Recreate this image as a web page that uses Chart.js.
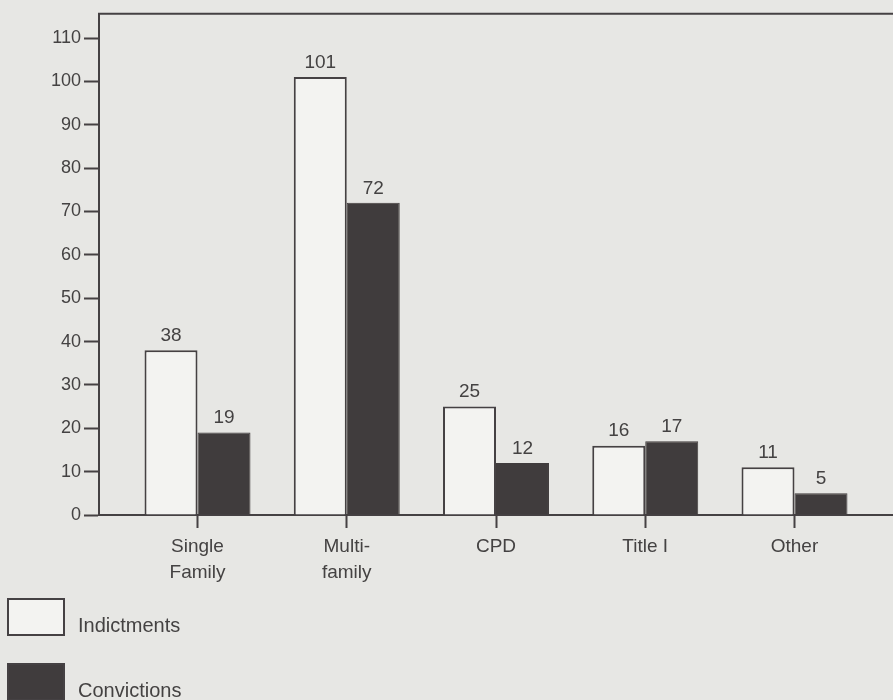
<!DOCTYPE html>
<html>
<head>
<meta charset="utf-8">
<script src="https://cdn.jsdelivr.net/npm/chart.js@4/dist/chart.umd.min.js"></script>
<style>
    html, body { margin: 0; padding: 0; background: #e7e7e4; }
    #wrap { width: 893px; height: 700px; position: relative; }
</style>
</head>
<body>
<div id="wrap"><canvas id="hudChart"></canvas></div>
<script>
Chart.defaults.font.family = "'Liberation Sans', Arial, sans-serif";
Chart.defaults.color = '#444242';

var categories  = [['Single', 'Family'], ['Multi-', 'family'], 'CPD', 'Title I', 'Other'];
var indictments = [38, 101, 25, 16, 11];
var convictions = [19, 72, 12, 17, 5];
var yTicks      = [0, 10, 20, 30, 40, 50, 60, 70, 80, 90, 100, 110];

var inkColor  = '#454143';
var darkFill  = '#403c3d';
var lightFill = '#f3f3f1';

function toPoints(values) {
    return values.map(function (v, i) { return { x: i, y: v }; });
}

// value labels above each bar
var valueLabels = {
    id: 'valueLabels',
    afterDatasetsDraw: function (chart) {
        var ctx = chart.ctx;
        ctx.save();
        ctx.font = '19px ' + Chart.defaults.font.family;
        ctx.fillStyle = '#444242';
        ctx.textAlign = 'center';
        ctx.textBaseline = 'bottom';
        chart.data.datasets.forEach(function (ds, di) {
            chart.getDatasetMeta(di).data.forEach(function (bar, i) {
                ctx.fillText(ds.data[i].y, bar.x, bar.y - 5);
            });
        });
        ctx.restore();
    }
};

// top frame line plus a stacked legend in the lower-left corner
var frameAndLegend = {
    id: 'frameAndLegend',
    afterDraw: function (chart) {
        var ctx = chart.ctx, area = chart.chartArea;
        ctx.save();
        ctx.strokeStyle = inkColor;
        ctx.lineWidth = 2;
        ctx.beginPath();
        ctx.moveTo(area.left - 1, area.top);
        ctx.lineTo(chart.width, area.top);
        ctx.stroke();

        ctx.font = '20px ' + Chart.defaults.font.family;
        ctx.textBaseline = 'middle';
        chart.data.datasets.forEach(function (ds, di) {
            var y = 599 + di * 65;
            ctx.fillStyle = ds.backgroundColor;
            ctx.fillRect(8, y, 56, 36);
            ctx.strokeStyle = inkColor;
            ctx.lineWidth = 2;
            ctx.strokeRect(8, y, 56, 36);
            ctx.fillStyle = '#444242';
            ctx.fillText(ds.label, 78, y + 27);
        });
        ctx.restore();
    }
};

new Chart(document.getElementById('hudChart'), {
    type: 'bar',
    data: {
        datasets: [
            {
                label:           'Indictments',
                data:            toPoints(indictments),
                backgroundColor: lightFill,
                borderColor:     inkColor,
                borderWidth:     2,
                borderSkipped:   'bottom'
            },
            {
                label:           'Convictions',
                data:            toPoints(convictions),
                backgroundColor: darkFill,
                borderColor:     darkFill,
                borderWidth:     1,
                borderSkipped:   'bottom'
            }
        ]
    },
    options: {
        responsive:          true,
        maintainAspectRatio: false,
        animation:           false,
        categoryPercentage:  0.71,
        barPercentage:       1.0,
        layout: { padding: { top: 11, left: 0, right: 0, bottom: 0 } },
        plugins: {
            legend:  { display: false },
            tooltip: { enabled: false }
        },
        scales: {
            x: {
                type: 'linear',
                min: -0.66,
                max: 4.66,
                offset: false,
                afterBuildTicks: function (scale) {
                    scale.ticks = categories.map(function (c, i) { return { value: i }; });
                },
                afterFit: function (scale) { scale.height = 185; },
                ticks: {
                    autoSkip: false,
                    maxRotation: 0,
                    padding: 6,
                    color: '#444242',
                    font: { size: 19, lineHeight: 1.35 },
                    callback: function (v) { return categories[v]; }
                },
                grid: {
                    offset: false,
                    drawOnChartArea: false,
                    tickLength: 13,
                    tickColor: inkColor,
                    tickWidth: 2
                },
                border: { color: inkColor, width: 2 }
            },
            y: {
                min: 0,
                max: 115.6,
                afterBuildTicks: function (scale) {
                    scale.ticks = yTicks.map(function (v) { return { value: v }; });
                },
                afterFit: function (scale) { scale.width = 99; },
                ticks: {
                    padding: 3,
                    color: '#444242',
                    font: { size: 18 }
                },
                grid: {
                    drawOnChartArea: false,
                    tickLength: 15,
                    tickColor: inkColor,
                    tickWidth: 2
                },
                border: { color: inkColor, width: 2 }
            }
        }
    },
    plugins: [valueLabels, frameAndLegend]
});
</script>
</body>
</html>
